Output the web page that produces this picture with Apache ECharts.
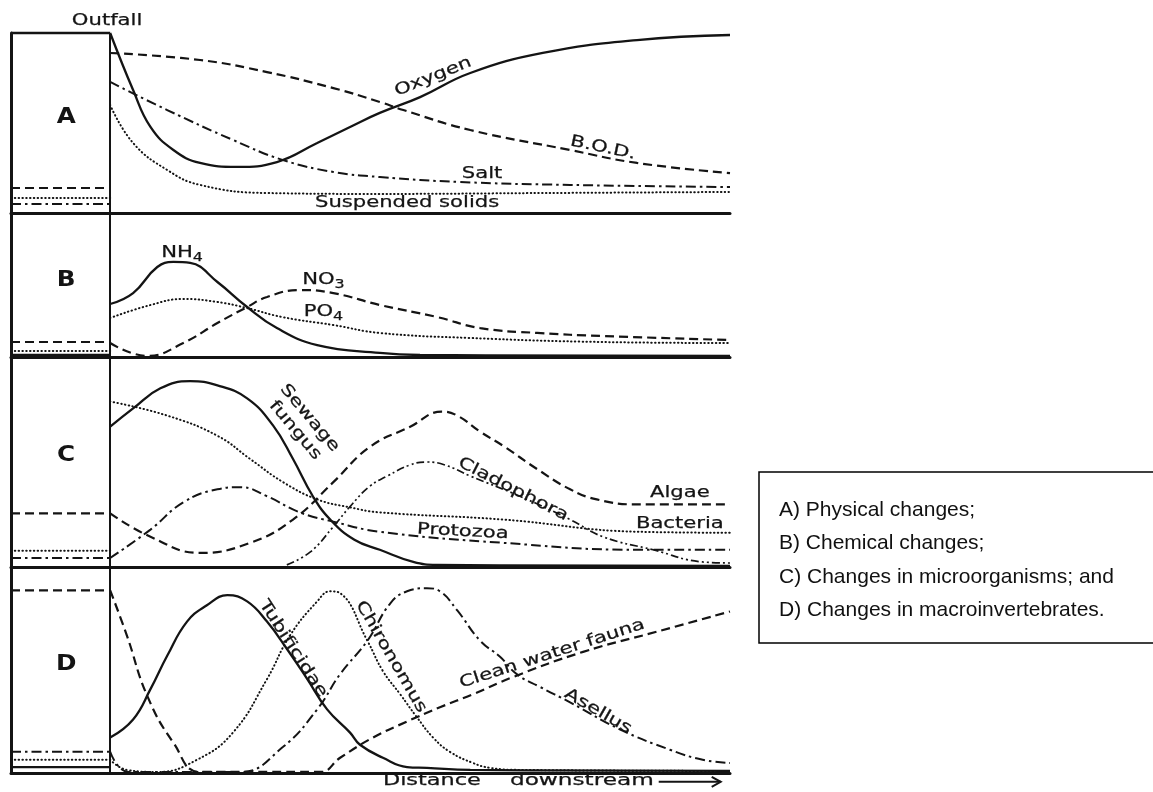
<!DOCTYPE html>
<html><head><meta charset="utf-8">
<script src="https://cdn.jsdelivr.net/npm/echarts@6/dist/echarts.min.js"></script>
<style>html,body{margin:0;padding:0;background:#fff}#c{width:1153px;height:792px}</style>
</head><body><div id="c"></div>
<script>
// ---------- DATA (distance downstream 0..100, outfall at 0; upstream box -16..0; level 0..100 per panel) ----------
// Panel A – physical changes
const oxygen = [[0,100],[3.7,68.3],[6.5,47.8],[10.2,35],[14.5,27.8],[20.5,25.6],[26.9,28.3],[33.4,38.9],[38.7,47.8],[43.5,55.6],[50,64.4],[58.1,77.8],[69.8,88.9],[85,96.1],[100,98.9]];
const bod = [[0,88.9],[14.5,85],[25.3,78.3],[36,69.4],[43.5,61.7],[47.3,57.2],[58.1,46.1],[74.2,35],[85,27.8],[100,22.2]];
const salt = [[0,72.8],[9.2,57.2],[19.8,40.6],[27.9,29.4],[36,22.8],[43.5,20],[56.5,17.2],[74.2,15.6],[100,14.4]];
const solids = [[0,60],[3.7,38.9],[9.2,23.9],[14.5,15.6],[25.3,11.1],[43.5,10.6],[70,11.1],[100,11.7]];
const upstreamA = {oxygen:100, bod:13.9, solids:8.3, salt:5};
// Panel B – chemical changes
const nh4 = [[0,36.8],[3.7,44.4],[7.6,62.5],[10.2,66],[12.9,65.3],[17.3,52.1],[22.1,34.7],[26.9,20.1],[33.4,8.3],[43.5,2.8],[50,1.4],[100,0.7]];
const no3 = [[0,9.7],[6,0.7],[11.8,9.7],[17.3,23.6],[22.1,34.7],[25.3,41.7],[30.6,46.5],[36,44.4],[43.5,36.1],[52.7,27.8],[59.7,20.1],[68.9,16.7],[79.5,14.6],[100,11.8]];
const po4 = [[0,27.1],[6.5,36.1],[11.8,40.3],[17.3,38.2],[22.1,34],[27.7,27.8],[36,22.2],[43.5,16.7],[58.1,13.2],[79.5,10.4],[100,9.7]];
const upstreamB = {nh4:1.4, no3:10.4, po4:4.2};
// Panel C – microorganisms
const sewageFungus = [[0,66.8],[3.7,75.5],[8.1,85.1],[12.9,88.5],[17.3,86.5],[22.1,80.3],[26.3,67.3],[29.5,51.4],[32.7,33.7],[35.5,22.6],[39.4,13],[43.5,8.2],[48.9,2.4],[52.7,1],[100,0.5]];
const bacteria = [[0,78.8],[9.2,72.1],[17.3,62.5],[22.6,51.4],[27.9,40.4],[33.4,32.2],[38.7,28.4],[43.5,26],[63.4,22.6],[85,16.8],[100,16.3]];
const algae = [[0,25.5],[6.5,14.4],[14.5,6.7],[22.6,11.5],[29.5,22.6],[36,40.4],[41.9,57.2],[48.4,66.8],[53.5,74],[56,72.1],[59.7,64.4],[63.4,57.7],[68.9,46.6],[74.2,37],[78.5,32.2],[85,29.8],[100,29.8]];
const protozoa = [[0,4.3],[6.5,17.8],[11.8,30.8],[17.3,37],[21,38],[25.3,33.7],[30.6,26],[36,21.6],[43.5,16.8],[63.4,11.5],[85,8.2],[100,8.2]];
const cladophora = [[28.5,1],[32.3,7.2],[36,19.2],[38.7,28.8],[41.9,38.5],[44.7,43.3],[48.4,48.6],[51.1,50],[54,48.6],[58.1,43.3],[66.1,33.7],[74.2,22.6],[79.5,14.4],[87.6,8.2],[95.6,2.4],[100,1.9]];
const upstreamC = {algae:25.5, bacteria:7.7, protozoa:4.3};
// Panel D – macroinvertebrates
const tubificidae = [[0,17.2],[3.7,26],[6.5,40.7],[9.2,56.9],[12.4,73.5],[15.6,81.4],[18.9,86.3],[22.1,83.3],[25.3,73.5],[28.5,60.3],[31.8,45.6],[35,30.9],[38.7,19.6],[40.3,13.7],[44,7.4],[47.9,2.9],[51.1,2.5],[58.1,1.5],[100,1]];
const cleanWaterFauna = [[0,88.7],[2.7,66.7],[6,37.3],[10.2,14.7],[14.5,0.5],[33.9,0.5],[37.1,7.4],[42.4,17.2],[47.9,25],[53.2,31.9],[58.5,38.2],[65,46.6],[76.3,58.8],[88.2,68.6],[100,78.4]];
const chironomus = [[0,6.4],[2.7,1.5],[7.6,0.5],[14,6.4],[19.8,19.6],[25.3,45.6],[29,66.7],[33.4,83.3],[35.5,88.2],[37.1,87.3],[41.5,64.2],[44,49.5],[46.8,38.2],[49.5,27],[52.1,17.2],[54.8,10.3],[58.5,4.9],[61.3,2.5],[66.1,1.5],[100,1]];
const asellus = [[0,10.3],[3,0.5],[21,0.5],[27.9,12.7],[33.4,30.9],[37.1,48],[41.5,64.2],[45.2,82.4],[47.9,88.2],[51.1,89.7],[53.2,88.2],[56,78.9],[59.7,64.2],[62.9,56.4],[65.6,48],[69.4,41.7],[74.2,34.3],[82.3,21.1],[90.3,11.3],[95.6,6.4],[100,4.9]];
const upstreamD = {tubificidae:2.9, cleanWaterFauna:88.7, chironomus:6.4, asellus:10.3};
const panelLetters = ['A','B','C','D'];
const legendLines = ['A) Physical changes;','B) Chemical changes;','C) Changes in microorganisms; and','D) Changes in macroinvertebrates.'];
const UPSTREAM_START = -16, OUTFALL = 0, END = 100;

// ---------- CHART ----------
const INK = '#141414';
const STY = {
  solid: {type:'solid', width:2.3},
  dashed: {type:[9,5], width:2.2},
  dotted: {type:[0.5,3.3], width:2, cap:'round'},
  dashdot: {type:[10,4,2.5,4], width:2},
  dashdotdot: {type:[8,3,2,3,2,3], width:1.7}
};
const PANELS = [{top:33,height:180},{top:213,height:144},{top:357,height:210},{top:567,height:206}];
const chart = echarts.init(document.getElementById('c'));
function mk(g, data, st, smooth) {
  return {type:'line', xAxisIndex:g, yAxisIndex:g, data:data, symbol:'none', showSymbol:false,
    smooth: smooth === undefined ? 0.45 : smooth, clip:false, silent:true, z:3,
    lineStyle: Object.assign({color:INK}, STY[st])};
}
function up(g, level, st) { return mk(g, [[UPSTREAM_START, level],[OUTFALL, level]], st, false); }

const series = [];
function panel(g, defs) {
  defs.forEach(d => {
    series.push(mk(g, d[0], d[1]));
    if (d[2] !== undefined) series.push(up(g, d[2], d[1]));
  });
  series.push({type:'line', xAxisIndex:g, yAxisIndex:g, data:[], silent:true,
    markLine:{silent:true, symbol:['none','none'], label:{show:false}, animation:false,
      lineStyle:{color:INK, width:2, type:'solid'}, data:[{xAxis:OUTFALL}]}});
}
panel(0, [[oxygen,'solid',upstreamA.oxygen],[bod,'dashed',upstreamA.bod],[salt,'dashdot',upstreamA.salt],[solids,'dotted',upstreamA.solids]]);
panel(1, [[nh4,'solid',upstreamB.nh4],[no3,'dashed',upstreamB.no3],[po4,'dotted',upstreamB.po4]]);
panel(2, [[sewageFungus,'solid'],[algae,'dashed',upstreamC.algae],[bacteria,'dotted',upstreamC.bacteria],[protozoa,'dashdot',upstreamC.protozoa],[cladophora,'dashdotdot']]);
panel(3, [[tubificidae,'solid',upstreamD.tubificidae],[cleanWaterFauna,'dashed',upstreamD.cleanWaterFauna],[chironomus,'dotted',upstreamD.chironomus],[asellus,'dashdot',upstreamD.asellus]]);

const axisOff = {axisTick:{show:false}, axisLabel:{show:false}, splitLine:{show:false}};
chart.setOption({
  animation:false,
  backgroundColor:'#fff',
  grid: PANELS.map(p => ({left:11, width:719, top:p.top, height:p.height})),
  xAxis: PANELS.map((p,i) => Object.assign({type:'value', gridIndex:i, min:UPSTREAM_START, max:END,
    axisLine:{show:true, onZero:false, lineStyle:{color:INK, width:3}}}, axisOff)),
  yAxis: PANELS.map((p,i) => Object.assign({type:'value', gridIndex:i, min:0, max:100,
    axisLine:{show:true, onZero:false, lineStyle:{color:INK, width:3}}}, axisOff)),
  series: series
});

// ---------- ANNOTATIONS (placed through the axes) ----------
const FONT = '"DejaVu Sans", sans-serif';
const TW = 0.25;
const rich = {n:{fontSize:16, fontFamily:FONT, fill:INK, stroke:INK, lineWidth:TW}, s:{fontSize:12, fontFamily:FONT, fill:INK, stroke:INK, lineWidth:TW, padding:[10,0,0,0]}};
// [grid, distance, level, text, rotation(deg), scaleX]
const notes = [
  [0,-0.5,106.5,'Outfall',0],
  [0,52.1,75.6,'Oxygen',22],
  [0,79.5,36.1,'B.O.D.',-12],
  [0,60,21.7,'Salt',0],
  [0,47.9,5.6,'Suspended solids',0],
  [1,11.6,72.5,'{n|NH}{s|4}',0],
  [1,34.4,53.5,'{n|NO}{s|3}',0],
  [1,34.4,31.3,'{n|PO}{s|4}',0],
  [2,31,68,'Sewage\nfungus',-50],
  [2,65,37,'Cladophora',-27],
  [2,91.9,35.1,'Algae',0],
  [2,91.9,20.7,'Bacteria',0],
  [2,56.9,16.8,'Protozoa',-3],
  [3,29.5,60.3,'Tubificidae',-57],
  [3,45.3,56.4,'Chironomus',-60],
  [3,71.3,57.8,'Clean water fauna',18],
  [3,78.7,29.9,'Asellus',-30],
  [3,51.9,-3.6,'Distance',0,1.4],
  [3,76.1,-3.6,'downstream',0,1.45]
];
const graphics = notes.map(n => {
  const p = chart.convertToPixel({gridIndex:n[0]}, [n[1], n[2]]);
  return {type:'text', x:p[0], y:p[1], rotation:n[4]*Math.PI/180, scaleX:n[5]||1.32, silent:true, z:10,
    style:{text:n[3], fill:INK, stroke:INK, lineWidth:TW, font:'16px '+FONT, fontSize:16, fontFamily:FONT, lineHeight:19,
      align:'center', verticalAlign:'middle', textAlign:'center', textVerticalAlign:'middle', rich:rich}};
});
panelLetters.forEach((L,i) => {
  const p = chart.convertToPixel({gridIndex:i}, [-7.1, 53]);
  graphics.push({type:'text', x:p[0], y:p[1], scaleX:1.12, silent:true, z:10,
    style:{text:L, fill:INK, font:'bold 22px '+FONT, fontSize:22, fontWeight:'bold', fontFamily:FONT,
      align:'center', verticalAlign:'middle', textAlign:'center', textVerticalAlign:'middle'}});
});
// arrow after "Distance downstream"
const a0 = chart.convertToPixel({gridIndex:3}, [88.5, -4.3]);
const a1 = chart.convertToPixel({gridIndex:3}, [98.5, -4.3]);
graphics.push({type:'line', silent:true, shape:{x1:a0[0], y1:a0[1], x2:a1[0], y2:a1[1]}, style:{stroke:INK, lineWidth:2}});
graphics.push({type:'polyline', silent:true, shape:{points:[[a1[0]-9,a1[1]-5],[a1[0],a1[1]],[a1[0]-9,a1[1]+5]]}, style:{stroke:INK, lineWidth:2, fill:null}});
// key box
graphics.push({type:'rect', silent:true, shape:{x:759, y:472, width:420, height:171}, style:{fill:'#fff', stroke:'#000', lineWidth:1.5}});
legendLines.forEach((t,i) => {
  graphics.push({type:'text', silent:true, x:779, y:510 + i*33.5, z:10,
    style:{text:t, fill:'#111', font:'21px "Liberation Sans", Arial, sans-serif', fontSize:21, fontFamily:'"Liberation Sans", Arial, sans-serif',
      align:'left', verticalAlign:'middle', textAlign:'left', textVerticalAlign:'middle'}});
});
chart.setOption({graphic:{elements:graphics}});
</script></body></html>
